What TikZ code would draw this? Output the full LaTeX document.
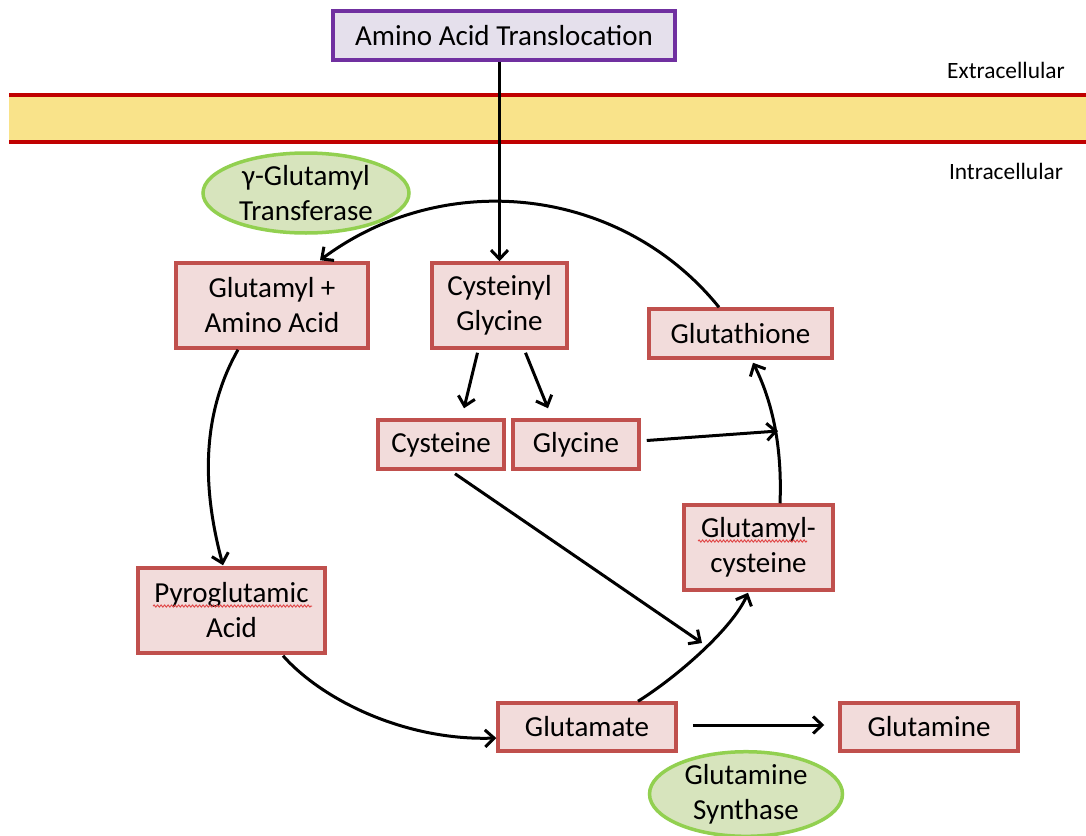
\documentclass[tikz,border=0pt]{standalone}
\usepackage{fontspec}
\setmainfont{Carlito}
\usetikzlibrary{arrows.meta,calc,shapes.geometric,decorations.pathmorphing}
\definecolor{boxfill}{HTML}{F2DCDB}
\definecolor{boxline}{HTML}{C0504D}
\definecolor{topfill}{HTML}{E5E0EC}
\definecolor{topline}{HTML}{7030A0}
\definecolor{ellfill}{HTML}{D7E4BD}
\definecolor{ellline}{HTML}{92D050}
\definecolor{memfill}{HTML}{F9E38A}
\definecolor{memline}{HTML}{C00000}
\definecolor{squig}{HTML}{E04848}
\begin{document}
\begin{tikzpicture}[x=1pt,y=-1pt,
  every node/.style={font=\fontsize{29}{35}\selectfont, inner sep=0pt, align=center},
  box/.style={draw=boxline, fill=boxfill, line width=3.5pt},
  topbox/.style={draw=topline, fill=topfill, line width=3.5pt},
  enz/.style={ellipse, draw=ellline, fill=ellfill, line width=3.5pt},
  side/.style={font=\fontsize{23.4}{28}\selectfont},
  conn/.style={line width=3pt, -{Straight Barb[length=9pt,width=17pt]}},
  wavy/.style={squig, line width=1pt, decorate, decoration={snake, amplitude=1pt, segment length=3.5pt}}]
\useasboundingbox (0,0) rectangle (1086,835);
% membrane
\fill[memfill] (9,95) rectangle (1086,142);
\draw[memline, line width=3.5pt] (9,95) -- (1086,95);
\draw[memline, line width=3.5pt] (9,142) -- (1086,142);
\node[side] (ext) at (1006,70) {Extracellular};
\node[side] (int) at (1006,171) {Intracellular};
% nodes
\node[topbox, minimum width=342, minimum height=49] (top) at (504,35.5) {Amino Acid Translocation};
\node[enz, minimum width=206, minimum height=80] (ggt) at (306,193) {γ-Glutamyl\\Transferase};
\node[box, minimum width=192, minimum height=85] (gaa) at (272,305.5) {Glutamyl +\\Amino Acid};
\node[box, minimum width=135, minimum height=85] (cg) at (499.5,305.5) {Cysteinyl\\Glycine};
\node[box, minimum width=183, minimum height=49] (gt) at (740.5,333.5) {Glutathione};
\node[box, minimum width=126, minimum height=49] (cys) at (441,444.5) {Cysteine};
\node[box, minimum width=126, minimum height=49] (gly) at (576,444.5) {Glycine};
\node[box, minimum width=149, minimum height=85] (gc) at (758.5,547.5) {Glutamyl-\\cysteine};
\node[box, minimum width=187, minimum height=85] (pyro) at (231.5,610.5) {Pyroglutamic\\Acid};
\node[box, minimum width=178, minimum height=48] (glu) at (587,727) {Glutamate};
\node[box, minimum width=178, minimum height=48] (gln) at (929,727) {Glutamine};
\node[enz, minimum width=193, minimum height=82] (gs) at (746,794) {Glutamine\\Synthase};
% spell-check underlines
\draw[wavy] (153,606) -- (312,606);
\draw[wavy] (698,541) -- (807,541);
% connectors
\coordinate (cysend) at (702,643);
\coordinate (glyend) at (778,431);
\draw[conn] (top.south -| cg.north) -- (cg.north);
\draw[conn] ($(gt.north)+(-21.5,0)$) .. controls +(-98,-121) and +(125,-93) .. ($(gaa.north)+(48,-1)$);
\draw[conn] ($(gaa.south)+(-34,0)$) .. controls +(-38,67) and +(-20,-74) .. ($(pyro.north)+(-8.5,-1)$);
\draw[conn] ($(pyro.south)+(51.5,1)$) .. controls +(40,45) and +(-90,3) .. ($(glu.west)+(0,11)$);
\draw[conn] ($(glu.north)+(51,0)$) .. controls +(40,-25) and +(-15,35) .. ($(gc.south)+(-10.5,1)$);
\draw[conn] ($(gc.north)+(21.5,0)$) .. controls +(2,-49) and +(22,44) .. ($(gt.south)+(12.5,3)$);
\draw[conn] ($(cg.south)+(-22,3)$) -- ($(cys.north)+(23,-10)$);
\draw[conn] ($(cg.south)+(26,3)$) -- ($(gly.north)+(-28,-10)$);
\draw[conn] ($(gly.east)+(6,-4)$) -- (glyend);
\draw[conn] ($(cys.south)+(14,3)$) -- (cysend);
\draw[conn] ($(glu.east)+(15,-2)$) -- ($(gln.west)+(-14,-2)$);
\end{tikzpicture}
\end{document}
